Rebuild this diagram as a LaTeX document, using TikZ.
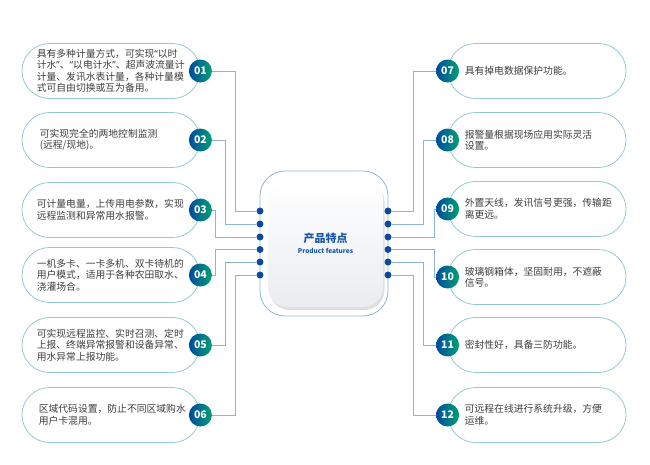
\documentclass[tikz,border=0pt]{standalone}
\usepackage{fontspec}
\usepackage{tikz}
\usetikzlibrary{positioning,shadows}
\newfontfamily\cjk{Noto Sans CJK SC}
\newfontfamily\qfont{Noto Sans}
\newcommand\openq{{\qfont “}}
\newcommand\closeq{{\qfont ”}}
\definecolor{pillline}{RGB}{150,200,210}
\definecolor{wirecolor}{RGB}{140,180,215}
\definecolor{dotblue}{RGB}{15,75,155}
\definecolor{badgeblue}{RGB}{0,75,160}
\definecolor{badgegreen}{RGB}{0,160,115}
\definecolor{txtgray}{RGB}{60,60,60}
\definecolor{titleblue}{RGB}{25,85,165}
\definecolor{coregray}{RGB}{234,236,240}

\begin{document}
\begin{tikzpicture}[x=1pt,y=-1pt,font=\cjk]
 \tikzstyle{pill}=[draw=pillline,line width=0.8pt,rounded corners=27.5pt,minimum width=178pt,minimum height=55pt,inner sep=0pt]
 \tikzstyle{badge}=[circle,minimum size=23pt,inner sep=0pt,left color=badgeblue,right color=badgegreen,text=white,font=\cjk\bfseries\fontsize{10.5}{12}\selectfont]
 \tikzstyle{txt}=[align=left,inner sep=0pt,text=txtgray,font=\cjk\fontsize{9.8}{11.5}\selectfont]
 \tikzstyle{wire}=[draw=wirecolor,line width=0.8pt]
 \tikzstyle{dot}=[circle,fill=dotblue,minimum size=7pt,inner sep=0pt]

 \useasboundingbox (0,0) rectangle (650,464);

   % left pills
   \node[pill] (p1) at (111,71) {};
   \node[pill] (p2) at (111,140) {};
   \node[pill] (p3) at (111,210) {};
   \node[pill] (p4) at (111,275) {};
   \node[pill] (p5) at (111,345) {};
   \node[pill] (p6) at (111,415) {};
   % right pills
   \node[pill] (p7) at (537,71) {};
   \node[pill] (p8) at (537,140) {};
   \node[pill] (p9) at (537,209) {};
   \node[pill] (p10) at (537,277) {};
   \node[pill] (p11) at (537,345) {};
   \node[pill] (p12) at (537,415) {};

   \node[txt,right=15pt of p1.west] (t1) {具有多种计量方式，可实现\openq 以时\\计水\closeq 、\openq 以电计水\closeq 、超声波流量计\\计量、发讯水表计量，各种计量模\\式可自由切换或互为备用。};
   \node[txt,right=18pt of p2.west] (t2) {可实现完全的两地控制监测\\(远程/现地)。};
   \node[txt,right=15pt of p3.west] (t3) {可计量电量，上传用电参数，实现\\远程监测和异常用水报警。};
   \node[txt,right=15pt of p4.west] (t4) {一机多卡、一卡多机、双卡待机的\\用户模式，适用于各种农田取水、\\浇灌场合。};
   \node[txt,right=15pt of p5.west] (t5) {可实现远程监控、实时召测、定时\\上报、终端异常报警和设备异常、\\用水异常上报功能。};
   \node[txt,right=17pt of p6.west] (t6) {区域代码设置，防止不同区域购水\\用户卡混用。};
   \node[txt,right=17pt of p7.west] (t7) {具有掉电数据保护功能。};
   \node[txt,right=17pt of p8.west] (t8) {报警量根据现场应用实际灵活\\设置。};
   \node[txt,right=17pt of p9.west] (t9) {外置天线，发讯信号更强，传输距\\离更远。};
   \node[txt,right=17pt of p10.west] (t10) {玻璃钢箱体，坚固耐用，不遮蔽\\信号。};
   \node[txt,right=17pt of p11.west] (t11) {密封性好，具备三防功能。};
   \node[txt,right=17pt of p12.west] (t12) {可远程在线进行系统升级，方便\\运维。};

   % chip in the middle
   \node[draw=wirecolor,line width=0.8pt,rounded corners=25pt,minimum width=128pt,minimum height=145pt] (frame) at (324,243.5) {};
   \node[rounded corners=20pt,minimum width=115pt,minimum height=128pt,top color=white,bottom color=coregray,
         drop shadow={shadow xshift=1.5pt,shadow yshift=-3pt,opacity=0.25},align=center,text=titleblue] (core) at (325.5,243)
         {{\bfseries\fontsize{11}{13}\selectfont 产品特点}\\[-1pt]{\bfseries\fontsize{6.5}{8}\selectfont Product features}};

   \node[dot] (l1) at (260,211) {};
   \node[dot] (l2) at (260,224) {};
   \node[dot] (l3) at (260,237) {};
   \node[dot] (l4) at (260,249.5) {};
   \node[dot] (l5) at (260,262) {};
   \node[dot] (l6) at (260,275) {};
   \node[dot] (r1) at (388,211) {};
   \node[dot] (r2) at (388,224) {};
   \node[dot] (r3) at (388,237) {};
   \node[dot] (r4) at (388,249.5) {};
   \node[dot] (r5) at (388,262) {};
   \node[dot] (r6) at (388,275) {};

   % number badges
   \node[badge] (n1) at (p1.east) {01};
   \node[badge] (n2) at (p2.east) {02};
   \node[badge] (n3) at (p3.east) {03};
   \node[badge] (n4) at (p4.east) {04};
   \node[badge] (n5) at (p5.east) {05};
   \node[badge] (n6) at (p6.east) {06};
   \node[badge] (n7) at (p7.west) {07};
   \node[badge] (n8) at (p8.west) {08};
   \node[badge] (n9) at (p9.west) {09};
   \node[badge] (n10) at (p10.west) {10};
   \node[badge] (n11) at (p11.west) {11};
   \node[badge] (n12) at (p12.west) {12};

   \draw[wire] (n1) -| ([xshift=-25pt]l1.center) -- (l1);
   \draw[wire] (n2) -| ([xshift=-35pt]l2.center) -- (l2);
   \draw[wire] (n3) -| ([xshift=-45pt]l3.center) -- (l3);
   \draw[wire] (n4) -| ([xshift=-45pt]l4.center) -- (l4);
   \draw[wire] (n5) -| ([xshift=-35pt]l5.center) -- (l5);
   \draw[wire] (n6) -| ([xshift=-25pt]l6.center) -- (l6);
   \draw[wire] (n7) -| ([xshift=25pt]r1.center) -- (r1);
   \draw[wire] (n8) -| ([xshift=35pt]r2.center) -- (r2);
   \draw[wire] (n9) -| ([xshift=46pt]r3.center) -- (r3);
   \draw[wire] (n10) -| ([xshift=46pt]r4.center) -- (r4);
   \draw[wire] (n11) -| ([xshift=35pt]r5.center) -- (r5);
   \draw[wire] (n12) -| ([xshift=25pt]r6.center) -- (r6);

\end{tikzpicture}
\end{document}
